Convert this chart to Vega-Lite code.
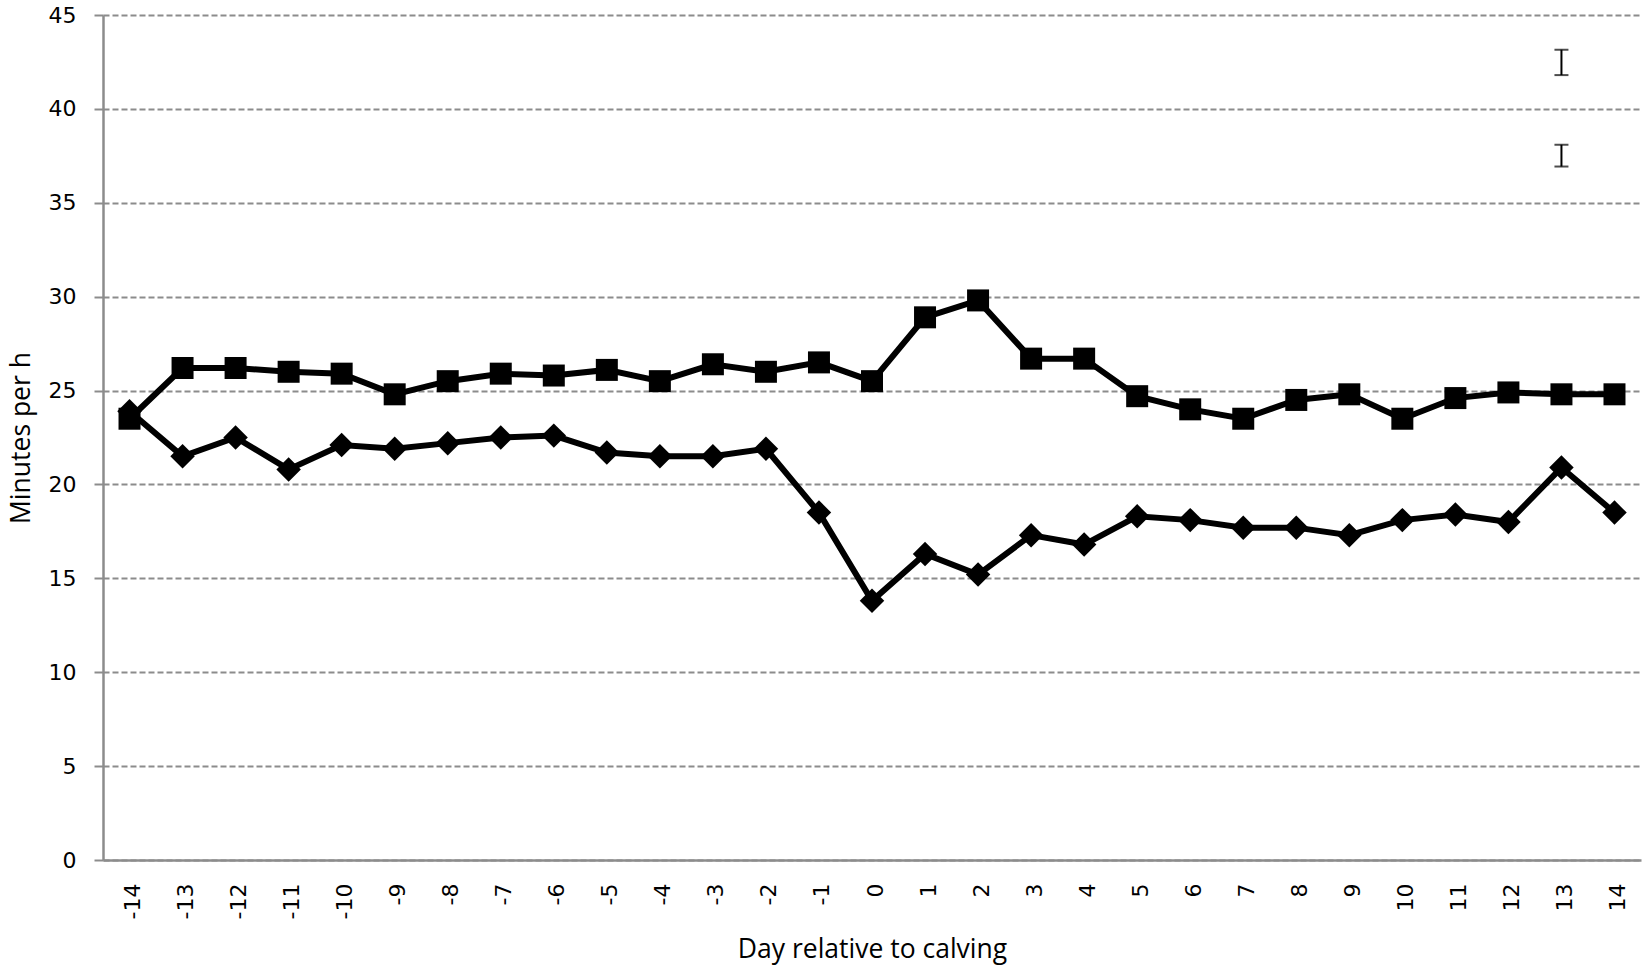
{
  "$schema": "https://vega.github.io/schema/vega-lite/v6.json",
  "autosize": {"type": "none"},
  "width": 1538,
  "height": 845,
  "padding": {"left": 103, "top": 15, "right": 2, "bottom": 108},
  "background": "white",
  "config": {
    "view": {"stroke": null},
    "axis": {
      "labelFont": "DejaVu Sans",
      "labelFontSize": 22,
      "labelColor": "#000000",
      "titleFont": "Open Sans",
      "titleFontSize": 26.5,
      "titleFontWeight": "normal",
      "titleColor": "#000000",
      "domainColor": "#8c8c8c",
      "domainWidth": 2.5,
      "tickColor": "#8c8c8c",
      "tickWidth": 2
    }
  },
  "datasets": {
    "main": [
      {"day": -14, "group": "b", "minutes": 23.9},
      {"day": -13, "group": "b", "minutes": 21.5},
      {"day": -12, "group": "b", "minutes": 22.5},
      {"day": -11, "group": "b", "minutes": 20.8},
      {"day": -10, "group": "b", "minutes": 22.1},
      {"day": -9, "group": "b", "minutes": 21.9},
      {"day": -8, "group": "b", "minutes": 22.2},
      {"day": -7, "group": "b", "minutes": 22.5},
      {"day": -6, "group": "b", "minutes": 22.6},
      {"day": -5, "group": "b", "minutes": 21.7},
      {"day": -4, "group": "b", "minutes": 21.5},
      {"day": -3, "group": "b", "minutes": 21.5},
      {"day": -2, "group": "b", "minutes": 21.9},
      {"day": -1, "group": "b", "minutes": 18.5},
      {"day": 0, "group": "b", "minutes": 13.8},
      {"day": 1, "group": "b", "minutes": 16.3},
      {"day": 2, "group": "b", "minutes": 15.2},
      {"day": 3, "group": "b", "minutes": 17.3},
      {"day": 4, "group": "b", "minutes": 16.8},
      {"day": 5, "group": "b", "minutes": 18.3},
      {"day": 6, "group": "b", "minutes": 18.1},
      {"day": 7, "group": "b", "minutes": 17.7},
      {"day": 8, "group": "b", "minutes": 17.7},
      {"day": 9, "group": "b", "minutes": 17.3},
      {"day": 10, "group": "b", "minutes": 18.1},
      {"day": 11, "group": "b", "minutes": 18.4},
      {"day": 12, "group": "b", "minutes": 18.0},
      {"day": 13, "group": "b", "minutes": 20.9},
      {"day": 14, "group": "b", "minutes": 18.5},
      {"day": -14, "group": "a", "minutes": 23.5},
      {"day": -13, "group": "a", "minutes": 26.2},
      {"day": -12, "group": "a", "minutes": 26.2},
      {"day": -11, "group": "a", "minutes": 26.0},
      {"day": -10, "group": "a", "minutes": 25.9},
      {"day": -9, "group": "a", "minutes": 24.8},
      {"day": -8, "group": "a", "minutes": 25.5},
      {"day": -7, "group": "a", "minutes": 25.9},
      {"day": -6, "group": "a", "minutes": 25.8},
      {"day": -5, "group": "a", "minutes": 26.1},
      {"day": -4, "group": "a", "minutes": 25.5},
      {"day": -3, "group": "a", "minutes": 26.4},
      {"day": -2, "group": "a", "minutes": 26.0},
      {"day": -1, "group": "a", "minutes": 26.5},
      {"day": 0, "group": "a", "minutes": 25.5},
      {"day": 1, "group": "a", "minutes": 28.9},
      {"day": 2, "group": "a", "minutes": 29.8},
      {"day": 3, "group": "a", "minutes": 26.7},
      {"day": 4, "group": "a", "minutes": 26.7},
      {"day": 5, "group": "a", "minutes": 24.7},
      {"day": 6, "group": "a", "minutes": 24.0},
      {"day": 7, "group": "a", "minutes": 23.5},
      {"day": 8, "group": "a", "minutes": 24.5},
      {"day": 9, "group": "a", "minutes": 24.8},
      {"day": 10, "group": "a", "minutes": 23.5},
      {"day": 11, "group": "a", "minutes": 24.6},
      {"day": 12, "group": "a", "minutes": 24.9},
      {"day": 13, "group": "a", "minutes": 24.8},
      {"day": 14, "group": "a", "minutes": 24.8}
    ],
    "err": [
      {"day": 13, "lo": 41.8, "hi": 43.15},
      {"day": 13, "lo": 36.93, "hi": 38.09}
    ]
  },
  "layer": [
    {
      "data": {"name": "main"},
      "mark": {"type": "line", "color": "#000000", "strokeWidth": 6},
      "encoding": {
        "x": {
          "field": "day", "type": "quantitative",
          "scale": {"domain": [-14.5, 14.5], "nice": false, "zero": false},
          "axis": {
            "title": "Day relative to calving",
            "values": [-14,-13,-12,-11,-10,-9,-8,-7,-6,-5,-4,-3,-2,-1,0,1,2,3,4,5,6,7,8,9,10,11,12,13,14],
            "labelExpr": "'' + datum.value",
            "labelAngle": -90,
            "ticks": false,
            "grid": false,
            "labelPadding": 23,
            "labelOffset": 3,
            "labelFlush": false,
            "labelOverlap": false,
            "titlePadding": 18
          }
        },
        "y": {
          "field": "minutes", "type": "quantitative",
          "scale": {"domain": [0, 45], "nice": false},
          "axis": {
            "title": "Minutes per h",
            "values": [0, 5, 10, 15, 20, 25, 30, 35, 40, 45],
            "tickSize": 9,
            "labelPadding": 18,
            "grid": true,
            "gridColor": "#8c8c8c",
            "gridDash": [6, 3],
            "gridWidth": 1.8,
            "titlePadding": 13
          }
        },
        "detail": {"field": "group"}
      }
    },
    {
      "data": {"name": "main"},
      "mark": {"type": "point", "filled": true, "color": "#000000", "opacity": 1},
      "encoding": {
        "x": {"field": "day", "type": "quantitative"},
        "y": {"field": "minutes", "type": "quantitative"},
        "shape": {
          "field": "group", "type": "nominal",
          "scale": {"domain": ["a", "b"], "range": ["square", "diamond"]},
          "legend": null
        },
        "size": {
          "field": "group", "type": "nominal",
          "scale": {"domain": ["a", "b"], "range": [484, 600]},
          "legend": null
        }
      }
    },
    {
      "data": {"name": "err"},
      "mark": {"type": "rule", "color": "#000000", "strokeWidth": 2},
      "encoding": {
        "x": {"field": "day", "type": "quantitative"},
        "y": {"field": "lo", "type": "quantitative"},
        "y2": {"field": "hi"}
      }
    },
    {
      "data": {"name": "err"},
      "mark": {"type": "tick", "color": "#000000", "thickness": 2, "size": 14, "orient": "horizontal"},
      "encoding": {
        "x": {"field": "day", "type": "quantitative"},
        "y": {"field": "lo", "type": "quantitative"}
      }
    },
    {
      "data": {"name": "err"},
      "mark": {"type": "tick", "color": "#000000", "thickness": 2, "size": 14, "orient": "horizontal"},
      "encoding": {
        "x": {"field": "day", "type": "quantitative"},
        "y": {"field": "hi", "type": "quantitative"}
      }
    }
  ]
}
